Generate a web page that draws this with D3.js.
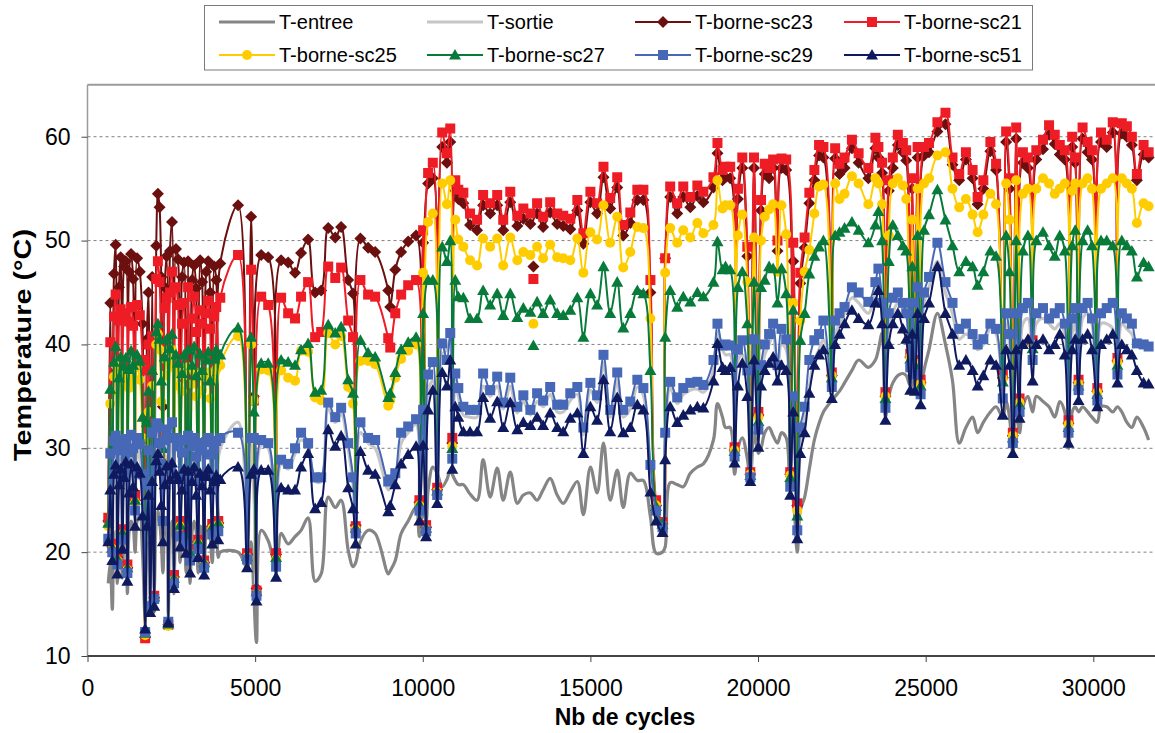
<!DOCTYPE html>
<html><head><meta charset="utf-8">
<script src="https://cdn.jsdelivr.net/npm/d3@7"></script>
<style>
body{margin:0;background:#fff;}
text{font-family:"Liberation Sans",Arial,sans-serif;fill:#000;}
</style>
</head><body>
<svg id="c" width="1155" height="733"></svg>
<script>
// ---------------- DATA ----------------
const cycles = [
 620,680,740,790,840,890,940,990,1040,1090,
 1140,1190,1240,1300,1360,1420,1480,1560,1640,1720,
 1770,1820,1870,1930,1990,2050,2100,2150,2200,2250,
 2300,2360,2410,2460,2520,2580,2640,2700,2760,2820,
 2880,2940,3000,3060,3120,3180,3240,3300,3360,3420,
 3480,3540,3600,3660,3720,3780,3840,3900,3960,
 4490,4760,4880,4960,5040,5180,5390,5625,5775,5985,
 6190,6370,6580,6790,6970,7180,7390,7565,7775,7920,
 8000,8140,8370,8580,8970,9030,9180,9355,9565,9800,
 9900,
 10010,10100,10160,10300,10430,10580,10720,10820,10880,10970,11060,
 11210,11410,11620,11800,12010,12220,12400,12610,12820,13000,
 13210,13410,13590,13800,14010,14190,14400,14610,14790,15000,
 15200,15390,15590,15800,15980,16190,16400,16580,16790,16960,
 17150,17230,17380,17590,17770,17980,18190,18370,18670,18790,
 18940,19030,
 19170,19300,19400,19530,19680,19770,19880,20010,20090,20200,
 20330,20450,20580,20700,20840,20960,21050,21170,21260,21390,
 21530,21680,21820,21950,22200,22300,22430,22580,22800,23000,
 23290,23500,23590,23700,23800,23900,24020,24170,24320,24420,
 24540,24600,24680,24760,24850,24950,25100,25350,25590,25800,
 26000,26200,26400,26550,26720,26930,27100,27300,27400,27500,
 27600,27700,27800,27900,28050,28190,28300,28500,28680,28850,
 29000,29150,29260,29370,29460,29560,29680,29830,29960,30120,
 30230,30400,30580,30720,30850,31000,31150,31300,31500,31650
];
const tEntree = [
 17,19,14.5,21,22,17,21,22,17.5,21.5,
 22.5,16,22,23,22.5,20,23,23.5,20,13.5,
 20,21,15,22,16.5,23,24,23,21,18,
 22,23,14,22,23,16,22,22.5,19,22,
 23,18,22.5,17,22,23,22,18,22.5,22,
 17.5,22,22.5,21.5,19,22,22.5,19.5,20,
 20.0,18.5,21.0,16.0,11.3,22.1,21.1,18.5,21.8,20.8,
 21.5,22.1,23.3,17.2,17.9,25.3,24.3,25.0,20.2,18.6,
 19.0,21.0,22.1,21.8,17.9,18.2,19.2,21.8,23.0,24.3,
 21.5,
 24.0,23.0,26.0,28.2,27.6,26.3,27.0,27.9,27.5,26.9,26.5,
 26.5,25.6,25.0,28.9,25.3,28.1,25.0,27.7,24.7,25.5,
 25.7,25.0,26.0,27.1,25.5,24.7,25.8,26.8,23.6,28.2,
 25.7,30.5,25.0,27.9,24.3,27.6,26.9,26.9,23.4,19.9,
 20.0,20.5,26.7,26.5,26.3,27.6,28.2,28.5,30.8,34.3,
 33.0,32.0,
 32.0,27.5,30.0,31.0,29.0,26.8,31.5,29.5,30.0,31.5,
 32.0,31.2,30.5,31.5,31.0,26.0,25.0,20.0,24.0,25.3,
 28.0,30.8,32.4,33.5,34.6,35.0,35.5,36.3,37.5,38.5,
 37.8,38.5,39.5,41.1,33.0,35.0,36.3,37.0,37.2,37.0,
 36.0,36.5,35.5,37.0,35.0,37.5,39.5,43.0,40.0,36.5,
 30.5,32.0,33.0,31.5,32.5,33.5,34.0,33.0,34.5,33.0,
 29.5,34.0,31.5,34.0,35.0,33.5,35.0,34.5,34.0,33.0,
 34.5,33.5,30.0,33.5,34.0,33.5,34.0,33.5,33.0,32.5,
 34.0,34.0,33.5,34.0,33.5,32.5,32.0,33.0,32.0,30.8
];
const tSortie = [
 21,27,19,29,30,20,28,29,21,29,
 29.5,19,29,30,29.5,24,30,29,27,12.5,
 27,29,15,31,16,31,32,30,28,22,
 30,31,13.5,30,31,17,30,30,23,30,
 30.5,21,30,19,30,30.5,29.5,20.5,30,29.5,
 20,30,30,29,22.5,29.5,30,23,30,
 32.5,20.0,30.5,26.0,15.5,30.3,30.0,20.5,28.5,28.0,
 29.5,30.8,30.0,26.8,26.8,33.8,32.5,33.3,30.0,26.5,
 21.5,31.5,30.5,30.0,26.0,26.3,27.0,30.5,31.5,32.3,
 24.0,
 31.0,23.0,35.5,36.5,26.0,39.0,39.5,40.5,29.5,36.5,35.0,
 33.2,33.0,33.0,36.0,35.0,36.0,33.8,36.0,33.4,34.5,
 33.2,34.5,34.0,35.2,33.5,33.5,34.6,35.2,31.3,35.6,
 34.4,38.3,33.0,36.6,33.0,33.8,35.9,35.1,27.7,23.5,
 22.0,30.8,35.8,34.3,35.2,35.6,35.7,35.4,37.5,41.2,
 39.5,39.0,
 39.0,29.0,38.5,39.0,36.5,27.0,39.2,31.0,37.0,39.0,
 40.0,41.0,37.0,40.0,39.5,27.0,34.0,22.5,30.0,33.0,
 36.0,38.5,39.5,40.5,36.0,41.0,42.0,43.0,44.5,44.0,
 43.0,45.0,46.0,44.0,34.5,41.5,43.0,44.0,43.5,43.0,
 37.5,43.0,37.0,43.5,36.0,44.0,45.5,48.0,45.0,43.0,
 40.5,41.0,40.5,39.5,40.0,41.5,41.0,36.5,42.0,40.0,
 31.0,41.5,34.0,42.0,42.5,38.5,42.0,42.5,42.0,41.5,
 42.0,41.0,32.0,41.0,42.0,36.0,42.5,43.0,42.0,35.0,
 42.0,42.0,41.5,37.5,42.0,41.5,41.0,40.0,40.0,39.5
];
const sc23 = [
 23.0,44.0,20.5,46.8,49.6,19.5,45.5,48.4,22.0,47.5,
 48.0,18.5,47.0,48.7,46.3,25.0,48.3,47.0,42.0,11.8,
 40.5,45.0,14.5,46.5,15.6,49.5,54.5,53.2,46.5,34.0,
 45.5,48.5,13.0,49.0,51.8,17.6,49.2,48.2,23.0,46.5,
 47.9,21.8,48.0,20.0,46.2,47.6,45.4,21.0,48.1,46.0,
 19.0,47.0,48.0,45.0,22.5,47.5,46.2,22.8,47.8,
 53.4,19.8,52.3,35.0,16.5,48.6,48.4,19.8,48.1,47.9,
 46.9,48.8,50.1,45.0,45.2,51.2,50.3,51.3,46.2,44.9,
 22.6,50.2,49.3,48.9,45.2,43.6,47.2,48.9,49.9,50.5,
 24.8,
 49.8,22.4,55.5,56.0,26.0,59.0,57.5,59.5,30.5,54.8,54.0,
 53.6,51.5,51.0,53.4,52.6,53.4,51.0,53.7,51.4,52.1,
 51.6,52.6,51.3,52.7,51.6,51.4,51.1,52.9,49.7,53.7,
 52.6,56.1,53.1,55.1,50.5,51.7,53.9,53.9,45.0,24.5,
 22.7,48.3,54.2,52.6,54.2,53.2,54.3,53.7,55.1,58.4,
 55.8,56.1,
 56.0,29.8,54.0,57.0,48.5,27.5,57.0,33.2,52.9,56.4,
 56.0,57.0,49.0,57.0,56.8,27.5,48.0,24.5,45.9,49.3,
 53.6,55.8,58.2,58.0,37.0,57.9,56.4,57.0,58.9,57.5,
 56.0,58.9,58.0,56.5,35.0,54.8,57.0,59.2,58.5,57.7,
 38.8,55.0,38.2,58.0,36.3,58.2,58.5,60.5,61.2,57.3,
 55.8,57.8,56.0,53.5,55.0,58.6,56.8,36.8,59.5,55.0,
 31.2,59.8,34.5,57.5,57.0,40.0,57.8,58.8,60.2,59.3,
 58.3,57.8,32.4,59.0,57.5,36.3,59.8,58.5,57.8,35.5,
 59.5,59.0,60.4,38.4,60.3,60.0,59.2,55.8,58.3,58.0
];
const sc21 = [
 23.3,40.2,20.8,42.7,44.8,19.8,42.3,43.4,22.2,42.6,
 43.0,18.8,42.2,43.6,41.8,25.5,43.8,42.8,38.5,11.7,
 37.5,40.0,14.6,40.8,15.8,46.3,48.0,46.0,40.0,31.5,
 43.5,44.5,13.0,45.0,47.0,17.8,45.5,43.8,23.0,42.0,
 44.0,22.0,45.5,20.3,42.5,44.6,41.2,21.2,43.3,42.0,
 19.2,43.0,44.2,41.5,22.7,42.7,43.6,23.0,44.5,
 48.6,19.9,47.2,34.6,16.3,44.6,43.8,19.9,44.5,43.0,
 42.5,44.6,46.0,40.7,41.2,47.5,46.4,47.4,42.3,40.7,
 22.5,46.2,44.8,44.6,40.6,39.7,43.0,44.8,45.7,46.2,
 25.0,
 51.0,22.6,56.5,57.5,26.2,60.4,58.4,60.8,31.0,55.8,54.9,
 54.6,52.6,52.0,54.4,53.6,54.4,52.0,54.7,52.4,53.1,
 52.6,53.6,52.3,53.7,52.6,52.4,52.1,53.9,50.7,54.7,
 53.6,57.1,54.1,56.1,51.5,52.7,54.9,54.9,46.2,25.0,
 22.9,48.3,55.2,53.6,55.2,54.2,55.3,54.7,56.1,59.4,
 56.8,57.1,
 57.1,30.1,55.0,58.0,49.4,27.7,58.0,33.5,53.9,57.4,
 57.0,57.8,50.0,57.9,57.8,27.7,49.8,24.7,46.9,50.3,
 54.6,56.8,59.2,59.0,37.3,58.9,57.4,58.0,59.7,58.4,
 57.0,59.9,59.0,57.5,35.4,55.8,58.0,60.2,59.4,58.7,
 39.1,56.0,38.5,59.0,36.6,59.0,59.4,61.4,62.3,58.0,
 56.4,58.5,56.8,54.2,55.8,59.5,57.4,37.1,60.5,56.0,
 31.5,60.9,34.8,58.5,58.0,40.4,58.7,59.7,61.1,60.2,
 59.2,58.7,32.7,60.0,58.0,36.6,60.9,59.5,58.7,35.8,
 60.4,59.7,61.4,38.7,61.3,61.0,60.0,56.4,59.2,58.5
];
const sc25 = [
 22.5,34.3,20.3,36.9,38.0,19.2,35.3,37.4,21.7,36.2,
 37.0,18.3,35.8,37.2,36.5,24.8,37.8,36.6,31.0,12.0,
 30.0,33.5,14.5,36.0,15.5,40.0,41.0,39.5,34.5,29.0,
 37.0,38.5,12.9,38.0,39.5,17.3,37.5,36.0,22.5,35.5,
 37.0,21.4,37.8,19.8,36.2,37.4,35.0,20.8,37.2,35.6,
 18.8,36.8,37.3,34.8,22.3,36.5,37.6,22.6,38.0,
 40.8,19.5,40.0,34.6,16.0,37.6,37.5,19.3,37.5,36.8,
 36.5,39.4,39.3,34.9,34.6,41.1,40.0,40.8,35.9,34.3,
 22.2,38.4,38.4,38.1,34.1,34.6,36.8,38.6,39.4,40.0,
 24.5,
 46.9,22.2,51.8,52.6,25.8,55.5,53.5,55.8,30.2,52.0,50.1,
 49.4,48.1,47.6,50.2,49.4,50.2,47.6,50.3,48.1,48.9,
 48.6,49.4,48.3,49.6,48.4,48.3,48.1,50.2,46.9,50.8,
 50.1,53.4,49.8,52.3,47.4,48.9,51.3,51.2,42.5,24.5,
 22.6,46.9,51.2,49.8,51.0,50.3,51.7,50.7,51.5,55.8,
 53.1,53.4,
 53.4,29.8,50.5,52.5,46.0,27.5,50.3,33.0,50.0,52.3,
 53.0,53.5,47.0,53.4,50.6,27.4,44.0,24.0,42.3,47.0,
 49.1,52.6,55.2,55.4,37.0,55.5,54.0,54.5,56.2,55.5,
 53.5,56.0,55.5,53.5,35.0,50.5,55.5,56.0,55.3,54.0,
 38.8,52.0,38.2,55.0,36.2,55.5,56.0,58.2,58.5,55.0,
 53.2,54.0,52.5,50.8,52.5,54.5,53.5,36.7,55.5,52.0,
 31.2,55.8,34.4,54.5,55.0,40.0,55.0,56.0,55.5,54.5,
 55.0,55.5,32.3,54.8,55.5,36.2,55.5,56.0,55.0,35.4,
 55.0,55.5,56.0,38.3,56.0,55.5,55.0,51.7,53.6,53.3
];
const sc27 = [
 22.8,35.7,20.4,38.3,39.8,19.4,36.8,38.8,21.9,37.9,
 38.7,18.5,37.6,39.4,38.0,25.0,39.0,38.4,33.0,12.2,
 32.5,35.5,14.7,37.5,15.7,41.2,42.0,40.5,36.5,30.0,
 38.8,40.5,13.1,39.6,41.0,17.5,39.0,38.2,22.6,37.2,
 39.0,21.6,39.5,20.0,38.0,39.8,37.0,21.0,39.1,37.5,
 19.0,38.5,39.3,36.5,22.4,38.6,39.5,22.8,39.0,
 41.6,19.6,40.7,33.5,16.2,38.2,38.2,19.5,38.5,38.3,
 38.0,39.5,40.1,35.4,35.6,41.9,41.1,41.7,36.6,35.3,
 22.3,40.4,39.2,38.8,34.9,35.3,37.3,39.5,40.2,40.7,
 24.6,
 43.0,22.3,46.2,46.2,25.9,49.4,48.0,50.0,30.0,46.2,44.6,
 44.5,42.5,42.5,45.2,43.8,44.9,42.8,44.9,42.6,43.5,
 43.1,44.1,43.0,44.3,43.0,42.8,43.3,44.5,40.7,44.9,
 43.8,47.5,43.0,46.0,41.6,43.0,45.2,44.9,37.5,24.4,
 22.7,40.7,45.2,43.6,44.6,44.1,45.0,44.6,46.0,49.9,
 47.2,47.5,
 47.2,29.7,45.5,47.0,42.0,27.4,46.0,32.6,45.5,46.2,
 47.5,47.3,44.0,47.3,44.9,27.2,43.3,23.5,40.4,43.0,
 46.8,48.5,49.4,50.0,36.8,50.5,50.8,51.2,51.8,51.0,
 49.8,51.5,52.8,50.0,34.8,48.0,51.5,50.5,49.5,49.0,
 38.6,47.5,38.0,50.5,36.0,51.0,52.5,54.9,52.0,49.5,
 47.0,48.0,47.5,45.7,47.0,49.0,48.5,36.4,50.5,47.0,
 31.0,50.0,34.2,49.0,50.5,39.6,50.0,50.8,49.5,48.5,
 50.5,49.0,32.0,49.5,51.0,36.0,50.0,51.0,49.5,35.2,
 50.0,50.0,49.5,38.0,50.0,49.5,49.0,46.5,47.9,47.5
];
const sc29 = [
 21.3,29.5,20.0,30.7,31.2,18.8,29.8,30.8,21.2,30.2,
 30.9,18.0,29.6,31.3,30.0,24.0,31.0,30.4,27.5,12.3,
 26.5,29.8,14.8,31.5,15.5,32.4,32.0,30.5,28.5,23.0,
 30.8,31.8,13.3,31.0,32.5,17.0,31.0,30.2,21.5,29.6,
 30.8,20.8,31.2,19.2,30.2,31.0,29.2,20.3,30.5,29.8,
 18.5,30.6,31.0,29.4,21.7,30.0,30.7,22.0,31.0,
 31.5,19.3,31.0,31.0,15.8,30.8,30.5,18.6,28.9,28.5,
 30.0,31.5,30.5,27.2,27.2,34.4,33.0,33.9,30.5,27.2,
 21.8,32.5,31.0,30.8,26.8,27.0,27.6,31.5,32.1,32.8,
 24.0,
 33.7,22.0,37.1,38.3,25.5,40.1,38.5,41.1,29.0,37.2,35.8,
 34.0,33.7,33.7,37.2,35.6,36.9,34.4,36.8,34.0,35.1,
 33.7,35.3,34.6,35.9,34.2,34.2,35.3,35.9,32.0,36.3,
 35.1,39.0,33.7,37.3,33.7,34.5,36.6,35.8,28.4,24.0,
 22.4,31.5,36.4,34.9,35.8,36.3,36.4,36.1,38.5,42.0,
 39.9,40.0,
 39.9,29.2,39.5,40.4,37.5,27.2,40.5,31.8,38.0,40.0,
 41.0,42.0,38.0,41.5,40.5,26.3,35.0,22.1,32.0,34.0,
 38.5,40.4,41.0,42.3,35.9,42.3,43.0,43.6,45.5,45.0,
 44.1,46.0,47.3,44.0,33.9,43.0,44.5,45.0,44.0,43.0,
 37.8,44.0,37.1,45.5,35.2,45.0,46.5,49.8,46.0,44.0,
 41.5,42.0,41.0,40.0,40.5,42.0,41.5,34.8,43.0,41.0,
 30.5,43.0,33.5,43.5,44.0,38.5,43.0,43.5,42.5,43.0,
 43.5,42.0,31.5,42.5,43.5,35.6,43.5,44.0,42.5,34.6,
 43.0,43.5,44.0,37.1,43.0,42.5,42.0,40.1,40.0,39.8
];
const sc51 = [
 21.0,26.0,19.2,27.5,28.4,17.9,26.5,28.0,20.3,27.2,
 28.7,17.2,25.7,28.5,26.3,22.5,28.2,27.6,23.5,12.6,
 22.5,25.5,14.2,26.8,14.8,28.8,29.5,27.8,24.5,21.0,
 26.5,28.3,13.2,27.0,28.6,16.5,27.5,27.0,20.5,26.0,
 28.0,19.9,27.8,18.0,26.8,28.2,25.5,19.5,27.6,26.4,
 17.8,27.3,28.0,26.0,20.8,26.8,27.4,21.2,27.0,
 28.2,18.5,27.5,28.0,15.3,27.9,27.9,17.6,26.2,26.0,
 26.0,28.2,29.5,24.2,24.8,31.8,30.2,31.2,26.2,24.2,
 20.8,29.7,27.9,27.5,23.9,24.5,26.5,28.5,29.4,30.2,
 23.0,
 30.3,21.5,33.7,35.6,24.7,37.3,36.0,38.5,28.0,34.0,33.0,
 31.6,31.6,31.6,34.9,32.9,34.5,32.0,34.4,31.8,32.5,
 32.2,33.0,32.2,33.4,32.0,31.6,32.9,33.4,29.5,34.0,
 32.7,36.6,31.6,34.9,31.5,32.0,34.2,33.7,25.8,23.0,
 21.9,28.9,34.0,32.5,33.2,33.7,34.0,33.9,36.5,40.1,
 37.8,37.5,
 37.8,28.6,36.0,38.2,35.0,26.8,38.5,30.1,36.0,37.5,
 38.2,38.8,36.5,38.0,37.5,25.5,33.5,21.3,29.5,31.5,
 35.3,38.0,39.0,39.5,34.8,40.0,41.0,42.0,43.3,42.5,
 41.9,44.0,45.2,42.0,32.7,40.0,42.0,43.0,41.5,40.5,
 35.6,41.0,35.5,43.0,34.2,42.5,44.0,47.5,43.0,41.0,
 38.0,38.5,37.5,36.0,37.0,38.5,38.0,33.2,39.5,38.0,
 29.5,39.5,32.9,40.0,40.5,36.5,40.0,40.5,39.5,40.0,
 41.0,39.0,30.5,39.5,40.5,34.6,40.5,41.0,39.5,34.0,
 40.0,40.5,41.0,36.3,40.0,39.5,39.0,37.5,36.3,36.2
];
// isolated reading with no line through it
const loneCycles = [13300];
const loneSc23 = [47.5];
const loneSc21 = [46.3];
const loneSc25 = [42.0];
const loneSc27 = [39.9];

const xTicks = [0,5000,10000,15000,20000,25000,30000];
const yTicks = [10,20,30,40,50,60];
const seriesNames = ["T-entree","T-sortie","T-borne-sc23","T-borne-sc21","T-borne-sc25","T-borne-sc27","T-borne-sc29","T-borne-sc51"];

// ---------------- CHART ----------------
const W = 1155, H = 733;
const svg = d3.select("#c");
svg.append("rect").attr("width", W).attr("height", H).attr("fill", "#fff");

const x = d3.scaleLinear().domain([0, 31840]).range([87.5, 1155]);
const y = d3.scaleLinear().domain([10, 65]).range([656, 84.8]);

const seriesValues = [tEntree, tSortie, sc23, sc21, sc25, sc27, sc29, sc51];
const styles = [
  {color:"#858585", width:3.2, marker:null},
  {color:"#c6c6c6", width:3.2, marker:null},
  {color:"#6b0f0f", width:2, marker:"diamond"},
  {color:"#ee1c25", width:2, marker:"square"},
  {color:"#ffcc00", width:2, marker:"circle"},
  {color:"#087a3a", width:2, marker:"triangle"},
  {color:"#4668b6", width:2, marker:"square"},
  {color:"#0f1a5e", width:2, marker:"triangle"}
];
const lone = {2: loneSc23, 3: loneSc21, 4: loneSc25, 5: loneSc27};

// grid
svg.append("g").selectAll("line").data(yTicks.filter(d => d > 10)).join("line")
  .attr("x1", x(0)).attr("x2", W).attr("y1", d => y(d)).attr("y2", d => y(d))
  .attr("stroke", "#808080").attr("stroke-width", 1).attr("stroke-dasharray", "3,3");

// plot frame
svg.append("line").attr("x1", x(0)).attr("x2", W).attr("y1", y(65)).attr("y2", y(65))
  .attr("stroke", "#9a9a9a").attr("stroke-width", 2);
svg.append("line").attr("x1", x(0)).attr("x2", x(0)).attr("y1", y(65)).attr("y2", y(10))
  .attr("stroke", "#9a9a9a").attr("stroke-width", 1.5);

function markerPath(kind) {
  if (kind === "diamond") return "M0,-6L6,0L0,6L-6,0Z";
  if (kind === "square") return "M-5,-5h10v10h-10Z";
  if (kind === "triangle") return "M0,-6L6,4.6L-6,4.6Z";
  return null;
}
function drawMarker(g, kind, color, cx, cy) {
  if (kind === "circle") {
    g.append("circle").attr("cx", cx).attr("cy", cy).attr("r", 5).attr("fill", color);
  } else {
    g.append("path").attr("d", markerPath(kind)).attr("transform", `translate(${cx},${cy})`).attr("fill", color);
  }
}

svg.append("clipPath").attr("id", "plotclip").append("rect")
  .attr("x", x(0) - 8).attr("y", y(65)).attr("width", W - x(0) + 8).attr("height", y(10) - y(65) + 8);
const plot = svg.append("g").attr("clip-path", "url(#plotclip)");

const line = d3.line().curve(d3.curveCatmullRom.alpha(0.5))
  .x(d => x(d[0])).y(d => y(d[1]));

seriesValues.forEach((vals, i) => {
  const st = styles[i];
  const pts = cycles.map((c, k) => [c, vals[k]]).filter(p => p[1] != null);
  const g = plot.append("g");
  g.append("path").attr("d", line(pts)).attr("fill", "none")
    .attr("stroke", st.color).attr("stroke-width", st.width).attr("stroke-linejoin", "round");
  if (st.marker) {
    pts.forEach(p => drawMarker(g, st.marker, st.color, x(p[0]), y(p[1])));
    if (lone[i]) loneCycles.forEach((c, k) => drawMarker(g, st.marker, st.color, x(c), y(lone[i][k])));
  }
});

// axes
const xAxis = d3.axisBottom(x).tickValues(xTicks).tickSize(6).tickPadding(18).tickFormat(d3.format("d"));
const gx = svg.append("g").attr("transform", `translate(0,${y(10)})`).call(xAxis);
gx.select(".domain").attr("d", `M${x(0)},0H${W}`).attr("stroke", "#444").attr("stroke-width", 2);
gx.selectAll(".tick line").attr("stroke", "#444");
gx.selectAll("text").attr("font-size", 23).attr("font-family", '"Liberation Sans", Arial, sans-serif');

const yAxis = d3.axisLeft(y).tickValues(yTicks).tickSize(6).tickPadding(11).tickFormat(d3.format("d"));
const gy = svg.append("g").attr("transform", `translate(${x(0)},0)`).call(yAxis);
gy.select(".domain").remove();
gy.selectAll(".tick line").attr("stroke", "#444");
gy.selectAll("text").attr("font-size", 23).attr("font-family", '"Liberation Sans", Arial, sans-serif');

// axis titles
svg.append("text").attr("x", 625).attr("y", 725).attr("text-anchor", "middle")
  .attr("font-size", 23).attr("font-weight", "bold").text("Nb de cycles");
svg.append("text").attr("transform", "translate(31,345) rotate(-90)")
  .attr("text-anchor", "middle").attr("font-size", 23).attr("font-weight", "bold")
  .attr("textLength", 232).attr("lengthAdjust", "spacingAndGlyphs").text("Temperature (°C)");

// legend
const lg = svg.append("g");
lg.append("rect").attr("x", 204.5).attr("y", 5.5).attr("width", 828).attr("height", 64.5)
  .attr("fill", "#fff").attr("stroke", "#7a7a7a").attr("stroke-width", 1);
const colX = [219, 427, 635, 844];
const rowY = [22, 55];
seriesNames.forEach((name, i) => {
  const st = styles[i];
  const cx0 = colX[i % 4], cy = rowY[Math.floor(i / 4)];
  const g = lg.append("g");
  g.append("line").attr("x1", cx0).attr("x2", cx0 + 56).attr("y1", cy).attr("y2", cy)
    .attr("stroke", st.color).attr("stroke-width", st.width);
  if (st.marker) drawMarker(g, st.marker, st.color, cx0 + 28, cy);
  g.append("text").attr("x", cx0 + 60).attr("y", cy + 7).attr("font-size", 20).text(name);
});
</script>
</body></html>
